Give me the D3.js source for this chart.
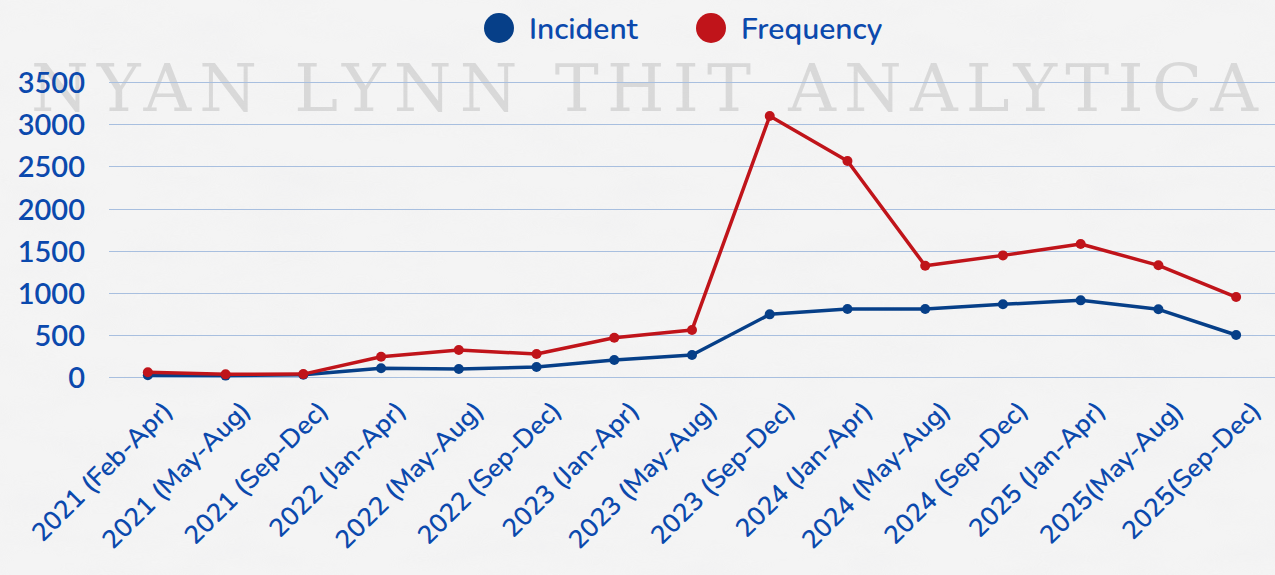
<!DOCTYPE html>
<html>
<head>
<meta charset="utf-8">
<script src="https://cdn.jsdelivr.net/npm/d3@7"></script>
<style>
  html, body { margin: 0; padding: 0; background: #f3f3f3; }
  svg { display: block; }
</style>
</head>
<body>
<div id="chart"></div>
<script>
//////////////////////////////////////////////////////////////
//////////////////////////// Data ////////////////////////////
//////////////////////////////////////////////////////////////

var periods = ["2021 (Feb-Apr)", "2021 (May-Aug)", "2021 (Sep-Dec)", "2022 (Jan-Apr)",
  "2022 (May-Aug)", "2022 (Sep-Dec)", "2023 (Jan-Apr)", "2023 (May-Aug)", "2023 (Sep-Dec)",
  "2024 (Jan-Apr)", "2024 (May-Aug)", "2024 (Sep-Dec)", "2025 (Jan-Apr)", "2025(May-Aug)",
  "2025(Sep-Dec)"];
var incident = [25, 20, 30, 107, 98, 123, 205, 264, 746, 809, 809, 865, 912, 806, 501];
var frequency = [59, 35, 38, 244, 323, 276, 469, 561, 3096, 2563, 1322, 1445, 1580, 1327, 951];
var yTicks = [0, 500, 1000, 1500, 2000, 2500, 3000, 3500];
var seriesNames = ["Incident", "Frequency"];

//////////////////////////////////////////////////////////////
///////////////////// General settings ///////////////////////
//////////////////////////////////////////////////////////////

var width = 1275, height = 575;
var margin = {top: 82, right: 0, bottom: 198, left: 109};
var blue = "#063f88", red = "#c0141a", labelBlue = "#0b49ad";

var svg = d3.select("#chart").append("svg")
    .attr("width", width)
    .attr("height", height);

// paper texture
var defs = svg.append("defs");
var paper = defs.append("filter").attr("id", "paper")
    .attr("x", 0).attr("y", 0).attr("width", "100%").attr("height", "100%");
paper.append("feTurbulence").attr("type", "fractalNoise")
    .attr("baseFrequency", "0.012 0.03").attr("numOctaves", 4).attr("seed", 3);
paper.append("feColorMatrix").attr("type", "matrix")
    .attr("values", "0 0 0 0 0.86  0 0 0 0 0.86  0 0 0 0 0.87  0 0 0 -0.9 0.55");

svg.append("rect").attr("width", width).attr("height", height).attr("fill", "#f4f4f4");
svg.append("rect").attr("width", width).attr("height", height)
    .attr("filter", "url(#paper)").attr("opacity", 0.8);

//////////////////////////////////////////////////////////////
///////////////////// Scales & Axes //////////////////////////
//////////////////////////////////////////////////////////////

var xScale = d3.scalePoint().domain(periods)
    .range([margin.left, width - margin.right]).padding(0.5);
var yScale = d3.scaleLinear().domain([0, 3500])
    .range([height - margin.bottom + 0.3, margin.top]);

// watermark
svg.append("text")
    .attr("x", 31).attr("y", 111)
    .attr("textLength", 1227).attr("lengthAdjust", "spacing")
    .style("font-family", "'DejaVu Serif', 'Liberation Serif', serif")
    .style("font-size", "66px")
    .style("fill", "#9a9a9a")
    .style("fill-opacity", 0.3)
    .text("NYAN LYNN THIT ANALYTICA");

// gridlines
svg.append("g").attr("class", "grid")
  .selectAll("line").data(yTicks).enter()
  .append("line")
    .attr("x1", margin.left).attr("x2", width)
    .attr("y1", function(d) { return Math.round(yScale(d)) + 0.5; })
    .attr("y2", function(d) { return Math.round(yScale(d)) + 0.5; })
    .attr("stroke", "#a8bfdf")
    .attr("stroke-width", 1);

// y axis labels
var yAxis = d3.axisLeft(yScale).tickValues(yTicks).tickFormat(d3.format("d"))
    .tickSize(0).tickPadding(0);
var gy = svg.append("g")
    .attr("transform", "translate(" + (margin.left - 24) + ",0)")
    .call(yAxis);
gy.select(".domain").remove();
gy.selectAll("text")
    .attr("dy", "0.36em")
    .style("font-family", "Lato, 'Noto Sans', sans-serif")
    .style("font-size", "29px")
    .style("font-weight", 600)
    .style("fill", labelBlue);

// x axis labels
var xAxis = d3.axisBottom(xScale).tickSize(0).tickPadding(0);
var gx = svg.append("g").call(xAxis);
gx.select(".domain").remove();
gx.selectAll(".tick").attr("transform", function(d) {
  return "translate(" + (xScale(d) + 13) + ",399)";
});
gx.selectAll("text")
    .attr("x", 0).attr("y", 0).attr("dy", "0.7em")
    .attr("transform", "rotate(-45)")
    .style("text-anchor", "end")
    .style("font-family", "Nunito, 'Open Sans', sans-serif")
    .style("font-size", "26px")
    .style("font-weight", 600)
    .style("fill", labelBlue);

//////////////////////////////////////////////////////////////
/////////////////////////// Lines ////////////////////////////
//////////////////////////////////////////////////////////////

var line = d3.line()
    .x(function(d, i) { return xScale(periods[i]); })
    .y(function(d) { return yScale(d); });

var series = [
  {name: seriesNames[0], values: incident, color: blue},
  {name: seriesNames[1], values: frequency, color: red}
];

series.forEach(function(s) {
  var g = svg.append("g").attr("class", "series");
  g.append("path")
      .attr("d", line(s.values))
      .attr("fill", "none")
      .attr("stroke", s.color)
      .attr("stroke-width", 3.5)
      .attr("stroke-linejoin", "round");
  g.selectAll("circle").data(s.values).enter()
    .append("circle")
      .attr("cx", function(d, i) { return xScale(periods[i]); })
      .attr("cy", function(d) { return yScale(d); })
      .attr("r", 5)
      .attr("fill", s.color);
});

//////////////////////////////////////////////////////////////
////////////////////////// Legend ////////////////////////////
//////////////////////////////////////////////////////////////

var legendX = [499, 711];
var legend = svg.append("g").attr("class", "legend")
  .selectAll("g").data(series).enter()
  .append("g")
    .attr("transform", function(d, i) { return "translate(" + legendX[i] + ",28)"; });
legend.append("circle").attr("r", 15).attr("fill", function(d) { return d.color; });
legend.append("text")
    .attr("x", 30).attr("dy", "0.35em")
    .style("font-family", "Nunito, 'Open Sans', sans-serif")
    .style("font-size", "30px")
    .style("font-weight", 600)
    .style("fill", labelBlue)
    .text(function(d) { return d.name; });
</script>
</body>
</html>
